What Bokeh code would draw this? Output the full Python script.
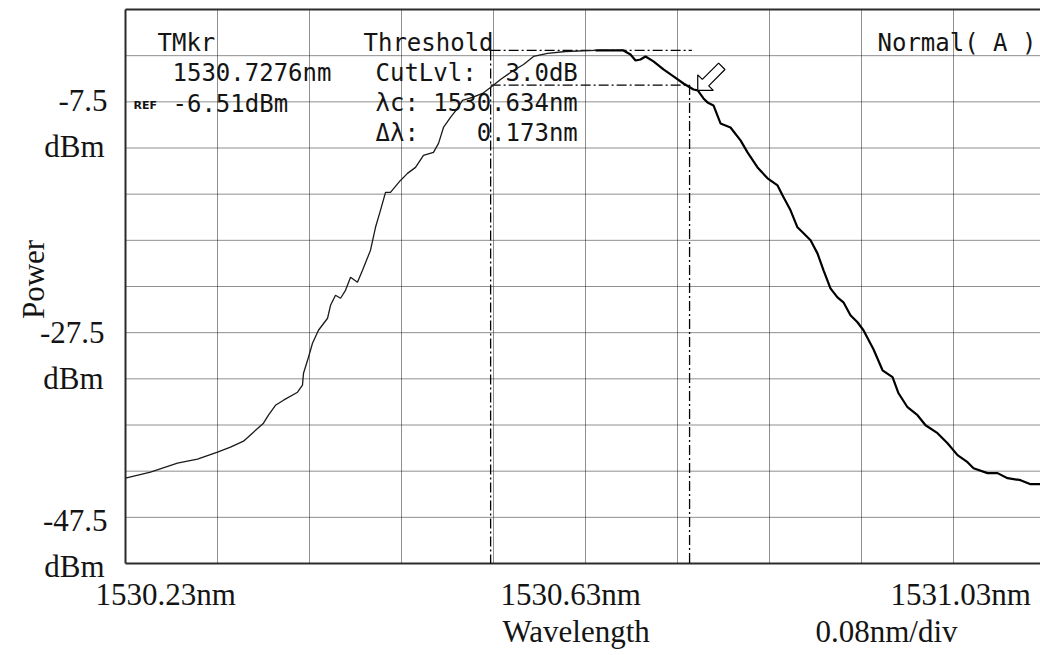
import math

from bokeh.plotting import figure
from bokeh.models import Label
from bokeh.embed import file_html
from bokeh.resources import INLINE

# Measured spectrum (optical spectrum analyser trace)
wavelength_nm = [
    1530.2300, 1530.2517, 1530.2752, 1530.2926, 1530.3100, 1530.3213, 1530.3326, 1530.3413, 1530.3500, 1530.3543,
    1530.3604, 1530.3674, 1530.3796, 1530.3839, 1530.3848, 1530.3891, 1530.3926, 1530.3978, 1530.4057, 1530.4083,
    1530.4126, 1530.4170, 1530.4213, 1530.4257, 1530.4317, 1530.4361, 1530.4430, 1530.4474, 1530.4517, 1530.4561,
    1530.4604, 1530.4691, 1530.4752, 1530.4822, 1530.4891, 1530.4978, 1530.5022, 1530.5065, 1530.5126, 1530.5187,
    1530.5230, 1530.5317, 1530.5404, 1530.5474, 1530.5561, 1530.5674, 1530.5761, 1530.5848, 1530.5970, 1530.6126,
    1530.6387, 1530.6630, 1530.6691, 1530.6735, 1530.6778, 1530.6822, 1530.6891, 1530.6978, 1530.7065, 1530.7152,
    1530.7239, 1530.7276, 1530.7326, 1530.7361, 1530.7413, 1530.7474, 1530.7561, 1530.7648, 1530.7709, 1530.7796,
    1530.7883, 1530.7970, 1530.8013, 1530.8083, 1530.8143, 1530.8196, 1530.8257, 1530.8317, 1530.8370, 1530.8430,
    1530.8491, 1530.8543, 1530.8604, 1530.8665, 1530.8717, 1530.8804, 1530.8883, 1530.8970, 1530.9022, 1530.9100,
    1530.9187, 1530.9257, 1530.9361, 1530.9448, 1530.9535, 1530.9622, 1530.9674, 1530.9796, 1530.9883, 1530.9970,
    1531.0083, 1531.0170, 1531.0257, 1531.0300,
]
power_dbm = [
    -40.11, -39.59, -38.81, -38.46, -37.85, -37.42, -36.90, -36.12, -35.34, -34.65,
    -33.79, -33.35, -32.66, -32.05, -31.02, -29.63, -28.42, -27.29, -26.25, -25.13,
    -24.26, -24.52, -23.83, -22.70, -23.14, -22.10, -20.37, -18.37, -16.90, -15.34,
    -15.34, -14.31, -13.70, -13.18, -12.14, -11.88, -11.10, -9.72, -8.85, -8.07,
    -7.38, -7.12, -6.77, -6.25, -5.56, -4.78, -4.26, -3.57, -3.31, -3.14,
    -3.05, -3.05, -3.40, -3.92, -3.83, -3.57, -4.00, -4.69, -5.30, -5.91,
    -6.43, -6.51, -7.21, -7.55, -7.81, -9.37, -9.72, -10.84, -11.88, -13.18,
    -14.13, -14.74, -15.60, -16.90, -18.37, -18.89, -19.50, -20.63, -22.10, -23.66,
    -24.44, -24.87, -25.99, -26.60, -27.29, -28.94, -30.76, -31.36, -32.75, -33.96,
    -34.65, -35.52, -36.21, -37.08, -38.11, -38.72, -39.24, -39.67, -39.67, -40.11,
    -40.28, -40.63, -40.63, -40.65,
]

# Instrument settings
start_nm = 1530.23
stop_nm = 1531.03
nm_per_div = 0.08
ref_dbm = -7.5
db_per_div = 4.0
bottom_dbm = -47.5

# Trace marker and threshold analysis results
marker_nm = 1530.7276
marker_dbm = -6.51
center_nm = 1530.634
width_nm = 0.173
cut_db = 3.0

# Axis annotation texts
y_tick_values = ["-7.5", "-27.5", "-47.5"]
y_tick_unit = "dBm"
x_tick_labels = ["1530.23nm", "1530.63nm", "1531.03nm"]
x_title = "Wavelength"
x_scale_text = "0.08nm/div"
y_title = "Power"

# Page layout (pixels): instrument screen placed inside the canvas
W, H = 1040, 655
SCR_LEFT, SCR_TOP, SCR_BOTTOM = 125, 9, 563
DIV_PX_X = 92.0

top_dbm = ref_dbm + 2 * db_per_div
nm_per_px = nm_per_div / DIV_PX_X
db_per_px = (top_dbm - bottom_dbm) / (SCR_BOTTOM - SCR_TOP)

x_lo = start_nm - SCR_LEFT * nm_per_px
x_hi = start_nm + (W - SCR_LEFT) * nm_per_px
y_lo = bottom_dbm - (H - SCR_BOTTOM) * db_per_px
y_hi = top_dbm + SCR_TOP * db_per_px

p = figure(
    width=W, height=H,
    x_range=(x_lo, x_hi), y_range=(y_lo, y_hi),
    output_backend="svg", toolbar_location=None,
    min_border=0,
)
p.axis.visible = False
p.grid.visible = False
p.outline_line_color = None
p.background_fill_color = "white"
p.border_fill_color = "white"

# Screen graticule: dotted division lines
n_x = int(round((stop_nm - start_nm) / nm_per_div))
n_y = int(round((top_dbm - bottom_dbm) / db_per_div))
gx = [start_nm + k * nm_per_div for k in range(1, n_x)]
gy = [bottom_dbm + k * db_per_div for k in range(1, n_y)]
p.segment(x0=gx, y0=[bottom_dbm] * len(gx), x1=gx, y1=[top_dbm] * len(gx),
          line_color="#1e1e1e", line_dash="1 1", line_width=1)
p.segment(x0=[start_nm] * len(gy), y0=gy, x1=[stop_nm] * len(gy), y1=gy,
          line_color="#1e1e1e", line_dash="1 1", line_width=1)

# Screen frame
frame_kw = dict(line_color="#2b2b2b", line_width=2)
p.line([start_nm, start_nm], [bottom_dbm, top_dbm], **frame_kw)
p.line([start_nm, stop_nm], [top_dbm, top_dbm], **frame_kw)
p.line([start_nm, stop_nm], [bottom_dbm, bottom_dbm], **frame_kw)
p.line([stop_nm, stop_nm], [bottom_dbm, top_dbm], **frame_kw)

# Threshold (3 dB cut) construction lines
peak_dbm = max(power_dbm)
cut_dbm = peak_dbm - cut_db
lo_nm = center_nm - width_nm / 2
hi_nm = center_nm + width_nm / 2
dash = "10 3 2 3"
p.line([lo_nm, hi_nm + 0.002], [peak_dbm, peak_dbm], line_color="black", line_width=1.3, line_dash=dash)
p.line([lo_nm, hi_nm], [cut_dbm, cut_dbm], line_color="black", line_width=1.3, line_dash=dash)
p.line([lo_nm, lo_nm], [peak_dbm, bottom_dbm], line_color="black", line_width=1.3, line_dash=dash)
p.line([hi_nm, hi_nm], [cut_dbm, bottom_dbm], line_color="black", line_width=1.3, line_dash=dash)

# Spectrum trace: rising edge drawn thinner, like the instrument screen
i_peak = power_dbm.index(peak_dbm)
p.line(wavelength_nm[: i_peak + 1], power_dbm[: i_peak + 1], line_color="#1a1a1a", line_width=1.3)
p.line(wavelength_nm[i_peak:], power_dbm[i_peak:], line_color="black", line_width=2.2)

# Hollow marker arrow pointing at the trace marker
shape = [(0, 0), (11, 11), (11, 4.5), (34, 4.5), (34, -4.5), (11, -4.5), (11, -11)]
c45 = math.cos(math.pi / 4)
ax = [marker_nm + (a * c45 - c * c45) * nm_per_px for a, c in shape]
ay = [marker_dbm + (a * c45 + c * c45) * db_per_px for a, c in shape]
p.patch(ax, ay, fill_color="white", line_color="black", line_width=1.2)


def put(text, x, y, size, font, align="left", angle=0.0, color="#141414", style="normal"):
    """Place text at a canvas pixel position (baseline anchored)."""
    p.add_layout(Label(
        x=x, y=H - y, x_units="screen", y_units="screen",
        text=text, text_font=font, text_font_size=size, text_align=align,
        text_baseline="alphabetic", angle=angle, text_color=color,
        text_font_style=style,
    ))


NB = "\u00a0"

# Instrument screen read-outs
mono = "DejaVu Sans Mono"
ms = "24px"
put("TMkr", 157, 42, ms, mono)
put(f"{marker_nm:.4f}nm", 172, 72, ms, mono)
put(f"{marker_dbm:.2f}dBm", 172, 103, ms, mono)
put("REF", 133, 105, "11px", "DejaVu Sans", style="bold")
put("Threshold", 363, 42, ms, mono)
put(f"CutLvl:{NB * 2}{cut_db:.1f}dB", 375, 72, ms, mono)
put(f"λc:{NB}{center_nm:.3f}nm", 375, 102, ms, mono)
put(f"Δλ:{NB * 4}{width_nm:.3f}nm", 375, 132, ms, mono)
put(f"Normal({NB}A{NB})", 877, 42, ms, mono)

# Axis annotations
serif = "Liberation Serif"
fs = "31px"
put(y_tick_values[0], 107, 100, fs, serif, align="right")
put(y_tick_unit, 104, 146, fs, serif, align="right")
put(y_tick_values[1], 104, 332, fs, serif, align="right")
put(y_tick_unit, 103, 378, fs, serif, align="right")
put(y_tick_values[2], 107, 520, fs, serif, align="right")
put(y_tick_unit, 104, 566, fs, serif, align="right")
put(y_title, 33, 279, fs, serif, align="center", angle=math.pi / 2)

put(x_tick_labels[0], 95, 594, fs, serif)
put(x_tick_labels[1], 500, 594, fs, serif)
put(x_tick_labels[2], 890, 594, fs, serif)
put(x_title, 502, 631, fs, serif)
put(x_scale_text, 815, 631, fs, serif)

open("out.html", "w").write(file_html(p, INLINE))
